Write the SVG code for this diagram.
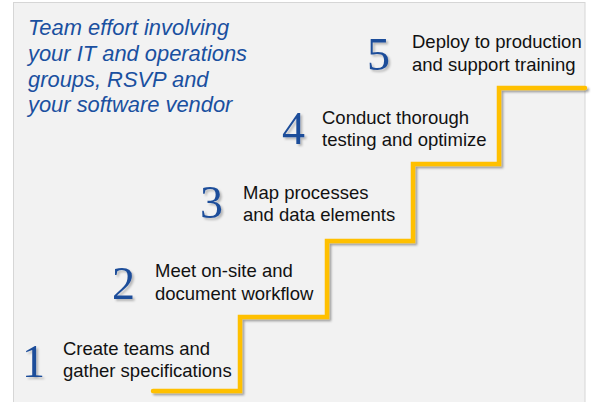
<svg xmlns="http://www.w3.org/2000/svg" width="591" height="402" viewBox="0 0 591 402">
<defs>
<style>
.title{font-family:"Liberation Sans",Arial,sans-serif;font-style:italic;font-size:21.9px;fill:#1a50a0}
.num{font-family:"Liberation Serif","Times New Roman",serif;font-size:46px;fill:#1f4e9a;text-anchor:middle}
.lbl{font-family:"Liberation Sans",Arial,sans-serif;font-size:18.5px;fill:#111111}
.stair{fill:none;stroke:#ffc000;stroke-width:4.5;stroke-linejoin:miter;stroke-linecap:round}
</style>
<filter id="sh" x="-20%" y="-20%" width="140%" height="140%">
<feDropShadow dx="2" dy="2" stdDeviation="1.2" flood-color="#000000" flood-opacity="0.35"/>
</filter>
<filter id="nsh" x="-30%" y="-30%" width="160%" height="160%">
<feDropShadow dx="2" dy="2" stdDeviation="1.2" flood-color="#000000" flood-opacity="0.25"/>
</filter>
</defs>
<rect x="0" y="0" width="591" height="402" fill="#ffffff"/>
<rect x="13.5" y="2.5" width="571.5" height="405" fill="#f2f2f2" stroke="#d6d6d6" stroke-width="1"/>
<g id="title">
<text class="title" x="28" y="35">Team effort involving</text>
<text class="title" x="28" y="61">your IT and operations</text>
<text class="title" x="28" y="87">groups, RSVP and</text>
<text class="title" x="28" y="112">your software vendor</text>
</g>
<g id="connectors">
<path class="stair" filter="url(#sh)" d="M153,391 H240 V317 H327 V241 H413 V164 H499 V88 H585"/>
</g>
<g id="step1">
<text class="num" filter="url(#nsh)" x="33.5" y="377">1</text>
<text class="lbl" x="63" y="355">Create teams and</text>
<text class="lbl" x="63" y="377">gather specifications</text>
</g>
<g id="step2">
<text class="num" filter="url(#nsh)" x="123.5" y="299">2</text>
<text class="lbl" x="155" y="277">Meet on-site and</text>
<text class="lbl" x="155" y="300">document workflow</text>
</g>
<g id="step3">
<text class="num" filter="url(#nsh)" x="211.5" y="218">3</text>
<text class="lbl" x="243" y="199">Map processes</text>
<text class="lbl" x="243" y="221">and data elements</text>
</g>
<g id="step4">
<text class="num" filter="url(#nsh)" x="293.5" y="144">4</text>
<text class="lbl" x="322" y="124">Conduct thorough</text>
<text class="lbl" x="322" y="146">testing and optimize</text>
</g>
<g id="step5">
<text class="num" filter="url(#nsh)" x="378.5" y="70">5</text>
<text class="lbl" x="412" y="48">Deploy to production</text>
<text class="lbl" x="412" y="71">and support training</text>
</g>
</svg>
